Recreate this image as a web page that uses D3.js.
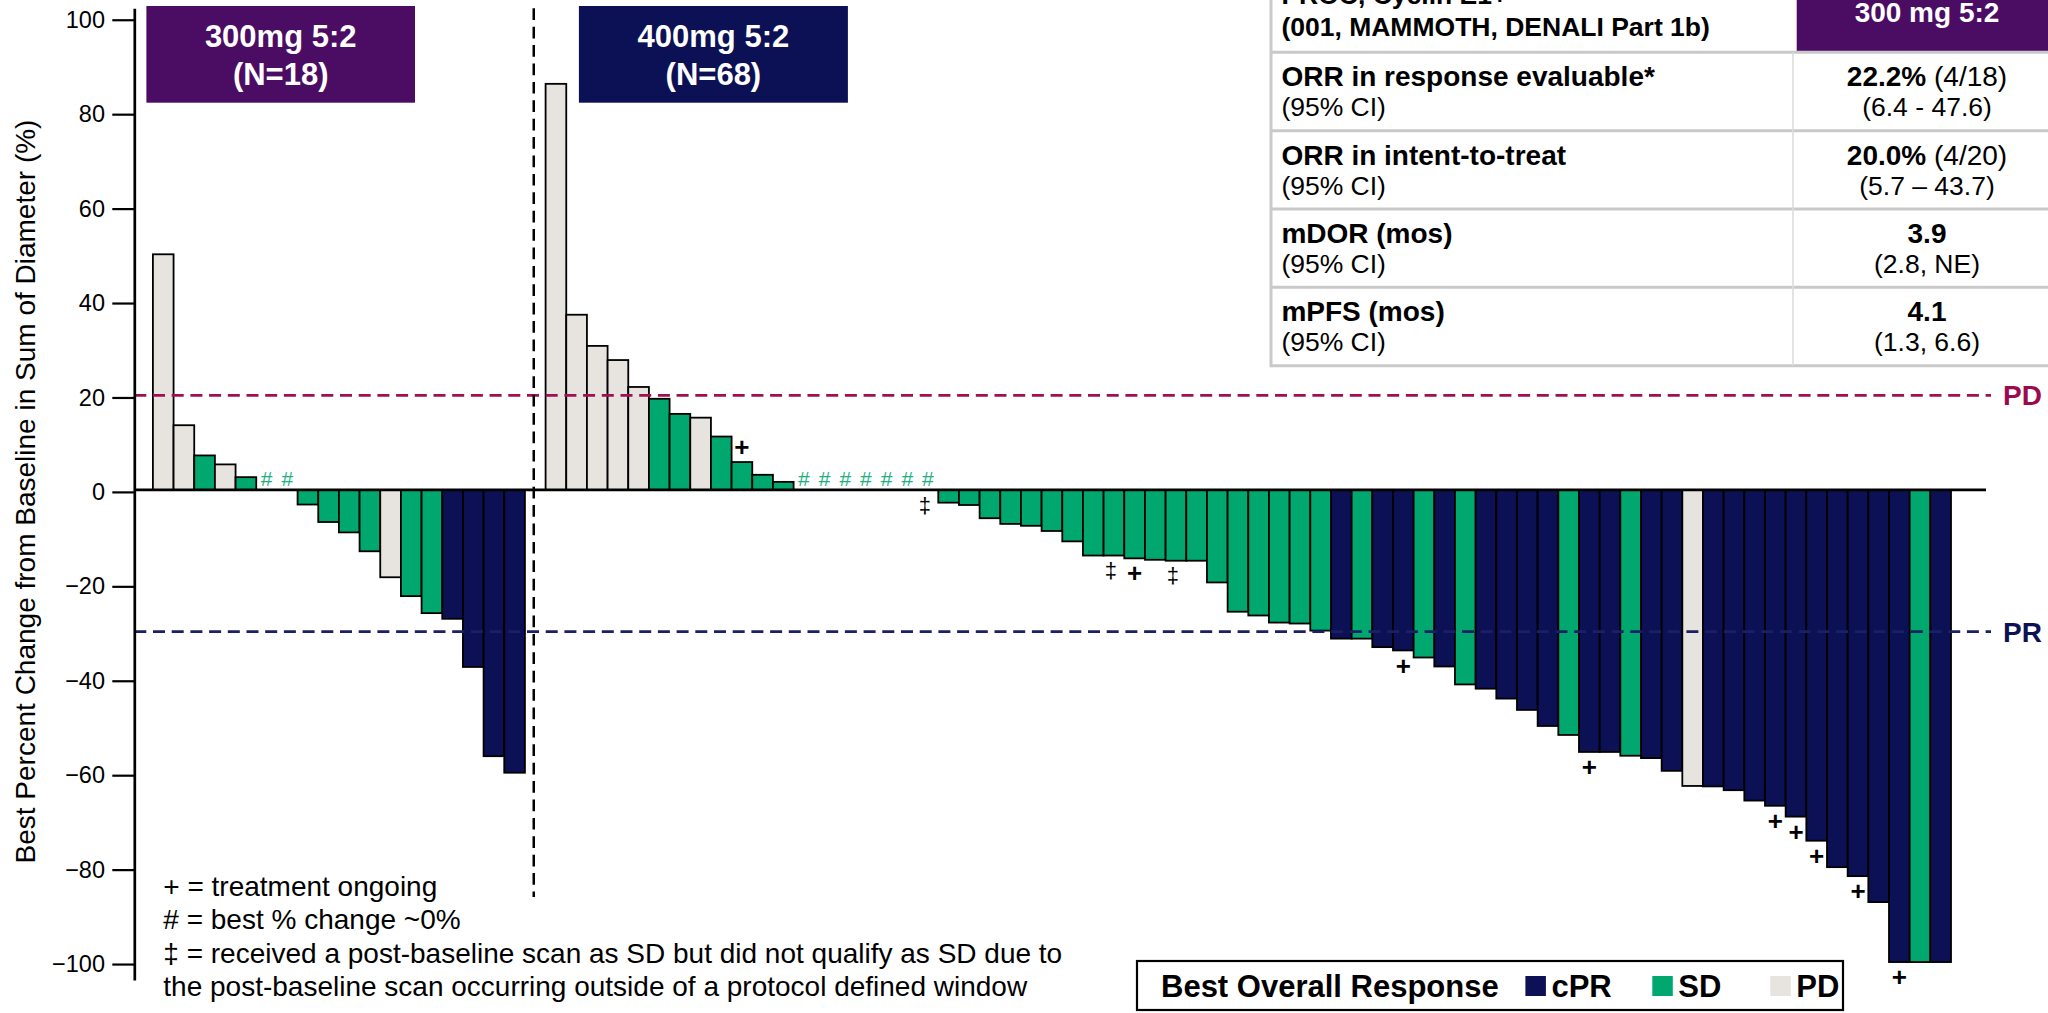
<!DOCTYPE html>
<html>
<head>
<meta charset="utf-8">
<script src="https://cdn.jsdelivr.net/npm/d3@7"></script>
<style>
  body { margin: 0; background: #fff; }
  svg { display: block; font-family: "Liberation Sans", Arial, sans-serif; }
</style>
</head>
<body>
<svg width="2048" height="1013"></svg>
<script>

// best % change from baseline, one value per patient, in waterfall order
var dose300Change = [49.9, 13.7, 7.3, 5.4, 2.7, 0, 0, -3.1, -6.8, -9.0, -13.0, -18.5, -22.5, -26.1, -27.3, -37.5, -56.4, -59.9];
var dose300Response = ["PD", "PD", "SD", "PD", "SD", "SD", "SD", "SD", "SD", "SD", "SD", "PD", "SD", "SD", "cPR", "cPR", "cPR", "cPR"];

var dose400Change = [86.0, 37.1, 30.5, 27.5, 21.8, 19.3, 16.1, 15.3, 11.3, 5.9, 3.2, 1.7,
  0, 0, 0, 0, 0, 0, 0,
  -2.7, -3.2, -6.0, -7.2, -7.6, -8.7, -10.9, -13.9, -13.9, -14.5, -14.8, -15.0, -15.0, -19.6,
  -25.8, -26.6, -28.1, -28.3, -29.8, -31.5, -31.5, -33.3, -34.0, -35.5, -37.4, -41.2, -42.1,
  -44.2, -46.6, -50.0, -51.9, -55.5, -55.5, -56.3, -56.8, -59.5, -62.7, -62.8, -63.6, -65.8,
  -66.9, -69.2, -74.3, -79.9, -81.8, -87.3, -100, -100, -100];
var dose400Response = ["PD", "PD", "PD", "PD", "PD", "SD", "SD", "PD", "SD", "SD", "SD", "SD",
  "SD", "SD", "SD", "SD", "SD", "SD", "SD",
  "SD", "SD", "SD", "SD", "SD", "SD", "SD", "SD", "SD", "SD", "SD", "SD", "SD", "SD",
  "SD", "SD", "SD", "SD", "SD", "cPR", "SD", "cPR", "cPR", "SD", "cPR", "SD", "cPR",
  "cPR", "cPR", "cPR", "SD", "cPR", "cPR", "SD", "cPR", "cPR", "PD", "cPR", "cPR", "cPR",
  "cPR", "cPR", "cPR", "cPR", "cPR", "cPR", "cPR", "SD", "cPR"];

// patient numbers (1-based) inside the 400mg group
var dose400Ongoing = [10, 29, 42, 51, 60, 61, 62, 64, 66];
var dose400Window = [19, 28, 31];

var yTicks = [100, 80, 60, 40, 20, 0, -20, -40, -60, -80, -100];
var pdCut = 20;
var prCut = -30;

var legendKeys = ["cPR", "SD", "PD"];

var tableHead = ["PROC, Cyclin E1+", "(001, MAMMOTH, DENALI Part 1b)"];
var tableDose = "300 mg 5:2";
var tableRows = ["ORR in response evaluable*", "ORR in intent-to-treat", "mDOR (mos)", "mPFS (mos)"];
var tableMain = ["22.2%", "20.0%", "3.9", "4.1"];
var tableCount = [" (4/18)", " (4/20)", "", ""];
var tableCI = ["(6.4 - 47.6)", "(5.7 \u2013 43.7)", "(2.8, NE)", "(1.3, 6.6)"];

var footnotes = [
  "+ = treatment ongoing",
  "# = best % change ~0%",
  "\u2021 = received a post-baseline scan as SD but did not qualify as SD due to",
  "the post-baseline scan occurring outside of a protocol defined window"
];

var color = { cPR: "#0c1054", SD: "#00a86f", PD: "#e7e4df" };
var purple = "#4b0d63";
var navy = "#0c1054";

var svg = d3.select("svg");

// one slot per patient plus an empty slot between the two dose groups
var bars = [];
dose300Change.forEach(function(v, i) {
  bars.push({ key: "a" + i, value: v, resp: dose300Response[i], n: i + 1, group: 300 });
});
dose400Change.forEach(function(v, i) {
  bars.push({ key: "b" + i, value: v, resp: dose400Response[i], n: i + 1, group: 400 });
});
var slots = bars.slice(0, 18).map(function(d) { return d.key; })
  .concat(["gap"])
  .concat(bars.slice(18).map(function(d) { return d.key; }));

var x = d3.scaleBand().domain(slots).range([152.9, 1951]).padding(0);
var y = d3.scaleLinear().domain([-103.8, 102]).range([980, 8.3]);
var bw = x.bandwidth();
var axisX = 134.3;
var lineEnd = 1991;

// bars
svg.append("g")
    .attr("class", "bars")
  .selectAll("rect")
  .data(bars.filter(function(d) { return d.value !== 0; }))
  .enter().append("rect")
    .attr("x", function(d) { return x(d.key); })
    .attr("y", function(d) { return Math.min(y(d.value), y(0)); })
    .attr("width", bw)
    .attr("height", function(d) { return Math.abs(y(d.value) - y(0)); })
    .attr("fill", function(d) { return color[d.resp]; })
    .attr("stroke", "#000")
    .attr("stroke-width", 1.8);

// zero line
svg.append("line")
    .attr("x1", axisX).attr("x2", 1986)
    .attr("y1", y(0)).attr("y2", y(0))
    .attr("stroke", "#000")
    .attr("stroke-width", 2.8);

// PD / PR thresholds
var cuts = [
  { v: pdCut, label: "PD", stroke: "#9e1052", text: "#9b0a4f" },
  { v: prCut, label: "PR", stroke: "#1b2066", text: navy }
];
svg.append("g").selectAll("line")
  .data(cuts)
  .enter().append("line")
    .attr("x1", axisX).attr("x2", lineEnd)
    .attr("y1", function(d) { return y(d.v); })
    .attr("y2", function(d) { return y(d.v); })
    .attr("stroke", function(d) { return d.stroke; })
    .attr("stroke-width", 2.7)
    .attr("stroke-dasharray", "12,6.7");
svg.append("g").selectAll("text")
  .data(cuts)
  .enter().append("text")
    .attr("x", 2003)
    .attr("y", function(d) { return y(d.v) + 10; })
    .attr("fill", function(d) { return d.text; })
    .attr("font-size", 28)
    .attr("font-weight", "bold")
    .text(function(d) { return d.label; });

// y axis (tick marks sit a couple of pixels below the bar baseline, as in the source)
var yAxis = d3.axisLeft(y)
    .tickValues(yTicks)
    .tickSize(22)
    .tickPadding(7.3)
    .tickSizeOuter(0);
var ax = svg.append("g")
    .attr("transform", "translate(" + axisX + ",0)")
    .call(yAxis);
ax.select(".domain").attr("stroke-width", 2.7);
ax.selectAll(".tick")
    .attr("transform", function(d) { return "translate(0," + (y(d) + 2.5) + ")"; });
ax.selectAll(".tick line").attr("stroke-width", 2.2);
ax.selectAll(".tick text")
    .attr("font-size", 23.5)
    .attr("font-family", "'Liberation Sans', Arial, sans-serif")
    .attr("fill", "#000");

svg.append("text")
    .attr("transform", "translate(35,491.5) rotate(-90)")
    .attr("text-anchor", "middle")
    .attr("font-size", 28)
    .text("Best Percent Change from Baseline in Sum of Diameter (%)");

// dashed separator between groups
svg.append("line")
    .attr("x1", x("gap") + bw / 2 - 1.5).attr("x2", x("gap") + bw / 2 - 1.5)
    .attr("y1", y(102)).attr("y2", 897)
    .attr("stroke", "#000")
    .attr("stroke-width", 2.5)
    .attr("stroke-dasharray", "11.7,6.7");

// markers
var hashes = bars.filter(function(d) { return d.value === 0; });
svg.append("g").selectAll("text")
  .data(hashes)
  .enter().append("text")
    .attr("x", function(d) { return x(d.key) + bw / 2; })
    .attr("y", y(0) - 4)
    .attr("text-anchor", "middle")
    .attr("font-size", 21)
    .attr("fill", "#22b07e")
    .text("#");

var plus = bars.filter(function(d) { return d.group === 400 && dose400Ongoing.indexOf(d.n) >= 0; });
svg.append("g").selectAll("text")
  .data(plus)
  .enter().append("text")
    .attr("x", function(d) { return x(d.key) + bw / 2; })
    .attr("y", function(d) { return d.value > 0 ? y(d.value) - 15 : y(d.value) + 15; })
    .attr("dy", "0.35em")
    .attr("text-anchor", "middle")
    .attr("font-size", 26)
    .attr("font-weight", "bold")
    .text("+");

var dagger = bars.filter(function(d) { return d.group === 400 && dose400Window.indexOf(d.n) >= 0; });
svg.append("g").selectAll("text")
  .data(dagger)
  .enter().append("text")
    .attr("x", function(d) { return x(d.key) + bw / 2 - 3; })
    .attr("y", function(d) { return y(d.value) + 16; })
    .attr("dy", "0.3em")
    .attr("text-anchor", "middle")
    .attr("font-size", 22)
    .text("\u2021");

// group header boxes
var groupBoxes = [
  { x0: 146.4, x1: 415, fill: purple, lines: ["300mg 5:2", "(N=" + dose300Change.length + ")"] },
  { x0: 578.9, x1: 847.9, fill: navy, lines: ["400mg 5:2", "(N=" + dose400Change.length + ")"] }
];
var gb = svg.append("g").selectAll("g")
  .data(groupBoxes)
  .enter().append("g");
gb.append("rect")
    .attr("x", function(d) { return d.x0; })
    .attr("y", 6)
    .attr("width", function(d) { return d.x1 - d.x0; })
    .attr("height", 96.7)
    .attr("fill", function(d) { return d.fill; });
gb.append("text")
    .attr("x", function(d) { return (d.x0 + d.x1) / 2; })
    .attr("y", 46.7)
    .attr("text-anchor", "middle")
    .attr("fill", "#fff")
    .attr("font-size", 31)
    .attr("font-weight", "bold")
    .text(function(d) { return d.lines[0]; });
gb.append("text")
    .attr("x", function(d) { return (d.x0 + d.x1) / 2; })
    .attr("y", 85)
    .attr("text-anchor", "middle")
    .attr("fill", "#fff")
    .attr("font-size", 31)
    .attr("font-weight", "bold")
    .text(function(d) { return d.lines[1]; });

// summary table, top right
var tb = svg.append("g").attr("class", "table");
var tLeft = 1271, tMid = 1793, tRight = 2048, rowH = 78.35, rowTop = 52.3;
var colCenter = 1927;

tb.append("rect")
    .attr("x", tLeft).attr("y", -10)
    .attr("width", tRight - tLeft).attr("height", rowTop + 10 + rowH * tableRows.length)
    .attr("fill", "#fff");
tb.append("rect")
    .attr("x", 1796.7).attr("y", -40)
    .attr("width", tRight - 1796.7).attr("height", 91)
    .attr("fill", purple);
tb.append("text")
    .attr("x", colCenter).attr("y", 21.7)
    .attr("text-anchor", "middle")
    .attr("fill", "#fff")
    .attr("font-size", 28)
    .attr("font-weight", "bold")
    .text(tableDose);
tb.selectAll(".head")
  .data(tableHead)
  .enter().append("text")
    .attr("class", "head")
    .attr("x", 1281.4)
    .attr("y", function(d, i) { return 4 + i * 32; })
    .attr("font-size", 26.5)
    .attr("font-weight", "bold")
    .text(function(d) { return d; });

tb.selectAll(".hline")
  .data(d3.range(tableRows.length + 1))
  .enter().append("line")
    .attr("class", "hline")
    .attr("x1", tLeft).attr("x2", tRight)
    .attr("y1", function(i) { return rowTop + i * rowH; })
    .attr("y2", function(i) { return rowTop + i * rowH; })
    .attr("stroke", "#c9c9c9")
    .attr("stroke-width", 3);
tb.append("line")
    .attr("x1", tLeft).attr("x2", tLeft)
    .attr("y1", 0).attr("y2", rowTop + rowH * tableRows.length + 1.5)
    .attr("stroke", "#c9c9c9")
    .attr("stroke-width", 3);
tb.append("line")
    .attr("x1", tMid).attr("x2", tMid)
    .attr("y1", rowTop).attr("y2", rowTop + rowH * tableRows.length)
    .attr("stroke", "#dcdcdc")
    .attr("stroke-width", 1.6);

var rows = tb.selectAll(".row")
  .data(tableRows)
  .enter().append("g")
    .attr("class", "row")
    .attr("transform", function(d, i) { return "translate(0," + (rowTop + i * rowH) + ")"; });
rows.append("text")
    .attr("x", 1281.4).attr("y", 34)
    .attr("font-size", 28)
    .attr("font-weight", "bold")
    .text(function(d) { return d; });
rows.append("text")
    .attr("x", 1281.4).attr("y", 64)
    .attr("font-size", 26.5)
    .text("(95% CI)");
var mainText = rows.append("text")
    .attr("x", colCenter).attr("y", 34)
    .attr("text-anchor", "middle")
    .attr("font-size", 28);
mainText.append("tspan")
    .attr("font-weight", "bold")
    .text(function(d, i) { return tableMain[i]; });
mainText.append("tspan")
    .text(function(d, i) { return tableCount[i]; });
rows.append("text")
    .attr("x", colCenter).attr("y", 64)
    .attr("text-anchor", "middle")
    .attr("font-size", 26.5)
    .text(function(d, i) { return tableCI[i]; });

// legend
var lg = svg.append("g").attr("class", "legend");
lg.append("rect")
    .attr("x", 1137).attr("y", 961)
    .attr("width", 706).attr("height", 49)
    .attr("fill", "#fff")
    .attr("stroke", "#000")
    .attr("stroke-width", 2.2);
lg.append("text")
    .attr("x", 1161).attr("y", 997)
    .attr("font-size", 31)
    .attr("font-weight", "bold")
    .text("Best Overall Response");
var legendX = [1525.4, 1652.3, 1770.3];
var li = lg.selectAll(".key")
  .data(legendKeys)
  .enter().append("g")
    .attr("class", "key")
    .attr("transform", function(d, i) { return "translate(" + legendX[i] + ",0)"; });
li.append("rect")
    .attr("x", 0).attr("y", 976)
    .attr("width", 20.5).attr("height", 20)
    .attr("fill", function(d) { return color[d]; });
li.append("text")
    .attr("x", 26).attr("y", 997)
    .attr("font-size", 31)
    .attr("font-weight", "bold")
    .text(function(d) { return d; });

// footnotes
svg.append("g").selectAll("text")
  .data(footnotes)
  .enter().append("text")
    .attr("x", 163.3)
    .attr("y", function(d, i) { return 896 + i * 33.3; })
    .attr("font-size", 28)
    .text(function(d) { return d; });

</script>
</body>
</html>
